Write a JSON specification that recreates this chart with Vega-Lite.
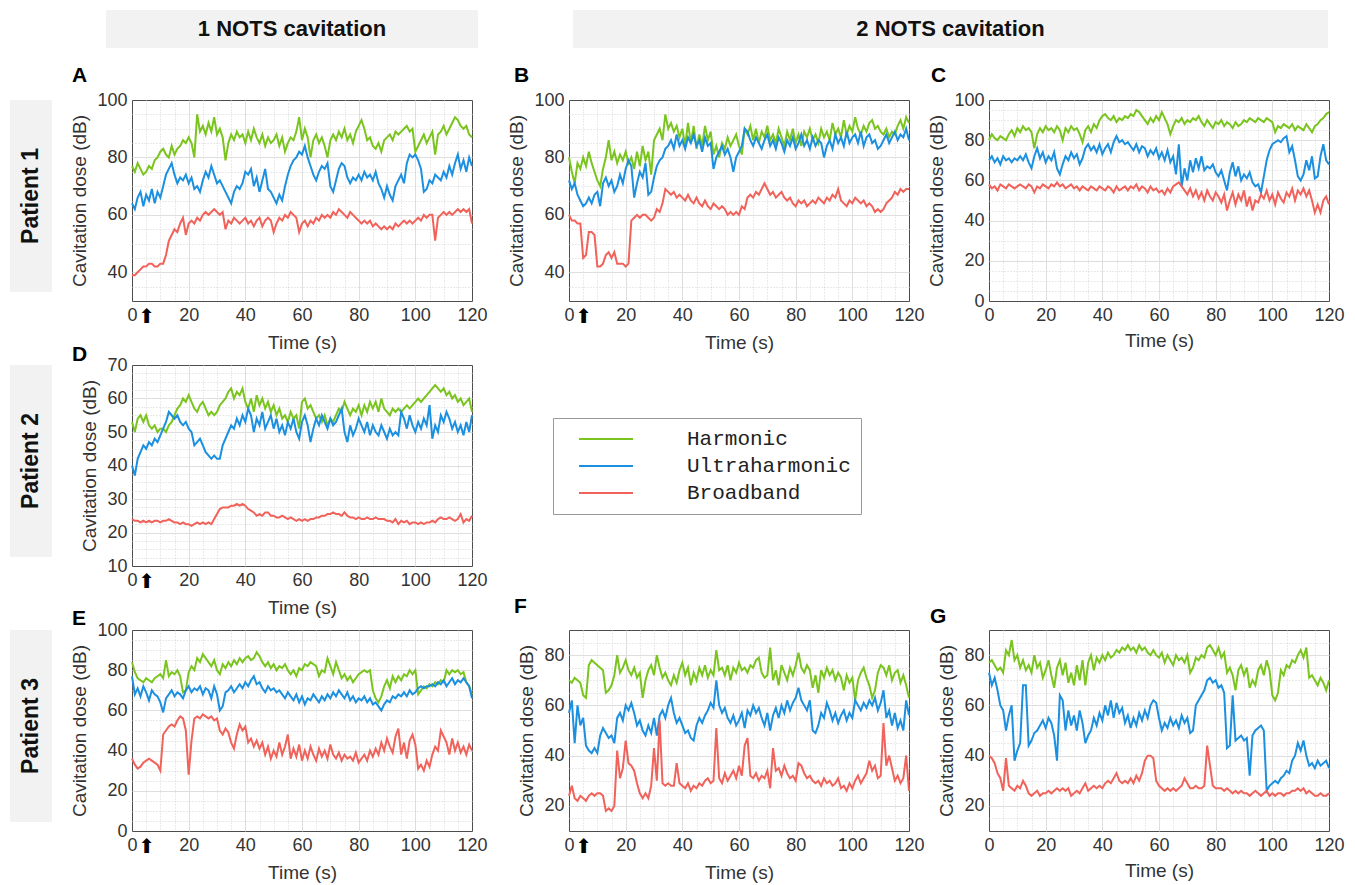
{
"$schema":"https://vega.github.io/schema/vega-lite/v6.json",
"padding":{"left":10,"top":10,"right":5,"bottom":5},
"background":"white",
"config":{
"view":{"stroke":"#4d4d4d","strokeWidth":1},
"font":"Liberation Sans",
"title":{"font":"Liberation Sans","fontSize":21,"fontWeight":"bold","color":"#000","anchor":"start","frame":"group","baseline":"alphabetic"},
"axis":{"labelFont":"Liberation Sans","labelFontSize":18,"labelColor":"#333","titleFont":"Liberation Sans","titleFontSize":19,"titleFontWeight":"normal","titleColor":"#333","domain":false,"ticks":false,"labelOverlap":false,"labelFlush":false,"labelBound":false,"grid":true,"gridWidth":1,"labelPadding":5},
"axisX":{"titlePadding":7},
"axisY":{"titlePadding":7},
"line":{"strokeWidth":2}
},
"datasets":{"cav":[
{"p":"A","t":0,"H":77,"U":64,"B":39},{"p":"A","t":1,"H":75,"U":62,"B":39},{"p":"A","t":2,"H":78,"U":66,"B":40},{"p":"A","t":3,"H":76,"U":68,"B":41},{"p":"A","t":4,"H":74,"U":63,"B":42},{"p":"A","t":5,"H":75,"U":67,"B":42},{"p":"A","t":6,"H":77,"U":65,"B":43},{"p":"A","t":7,"H":76,"U":69,"B":43},{"p":"A","t":8,"H":79,"U":64,"B":42},{"p":"A","t":9,"H":80,"U":68,"B":42},
{"p":"A","t":10,"H":82,"U":66,"B":43},{"p":"A","t":11,"H":83,"U":70,"B":43},{"p":"A","t":12,"H":81,"U":74,"B":46},{"p":"A","t":13,"H":80,"U":76,"B":51},{"p":"A","t":14,"H":84,"U":78,"B":53},{"p":"A","t":15,"H":81,"U":74,"B":55},{"p":"A","t":16,"H":83,"U":71,"B":54},{"p":"A","t":17,"H":84,"U":73,"B":57},{"p":"A","t":18,"H":86,"U":72,"B":59},{"p":"A","t":19,"H":85,"U":74,"B":53},
{"p":"A","t":20,"H":87,"U":71,"B":57},{"p":"A","t":21,"H":85,"U":73,"B":58},{"p":"A","t":22,"H":80,"U":69,"B":57},{"p":"A","t":23,"H":95,"U":70,"B":59},{"p":"A","t":24,"H":89,"U":68,"B":58},{"p":"A","t":25,"H":91,"U":72,"B":60},{"p":"A","t":26,"H":88,"U":75,"B":61},{"p":"A","t":27,"H":92,"U":73,"B":60},{"p":"A","t":28,"H":89,"U":77,"B":61},{"p":"A","t":29,"H":94,"U":74,"B":62},
{"p":"A","t":30,"H":88,"U":71,"B":61},{"p":"A","t":31,"H":90,"U":72,"B":60},{"p":"A","t":32,"H":87,"U":70,"B":61},{"p":"A","t":33,"H":79,"U":68,"B":55},{"p":"A","t":34,"H":85,"U":66,"B":58},{"p":"A","t":35,"H":88,"U":64,"B":57},{"p":"A","t":36,"H":86,"U":68,"B":59},{"p":"A","t":37,"H":89,"U":70,"B":58},{"p":"A","t":38,"H":87,"U":69,"B":57},{"p":"A","t":39,"H":88,"U":71,"B":58},
{"p":"A","t":40,"H":85,"U":75,"B":59},{"p":"A","t":41,"H":89,"U":74,"B":57},{"p":"A","t":42,"H":86,"U":76,"B":58},{"p":"A","t":43,"H":90,"U":70,"B":56},{"p":"A","t":44,"H":87,"U":73,"B":58},{"p":"A","t":45,"H":85,"U":68,"B":59},{"p":"A","t":46,"H":88,"U":72,"B":56},{"p":"A","t":47,"H":84,"U":76,"B":58},{"p":"A","t":48,"H":87,"U":69,"B":59},{"p":"A","t":49,"H":85,"U":68,"B":58},
{"p":"A","t":50,"H":86,"U":66,"B":54},{"p":"A","t":51,"H":88,"U":64,"B":57},{"p":"A","t":52,"H":84,"U":67,"B":59},{"p":"A","t":53,"H":87,"U":65,"B":58},{"p":"A","t":54,"H":82,"U":70,"B":60},{"p":"A","t":55,"H":85,"U":74,"B":59},{"p":"A","t":56,"H":87,"U":77,"B":61},{"p":"A","t":57,"H":86,"U":79,"B":60},{"p":"A","t":58,"H":89,"U":80,"B":59},{"p":"A","t":59,"H":94,"U":82,"B":54},
{"p":"A","t":60,"H":86,"U":81,"B":57},{"p":"A","t":61,"H":90,"U":84,"B":58},{"p":"A","t":62,"H":87,"U":80,"B":56},{"p":"A","t":63,"H":80,"U":77,"B":58},{"p":"A","t":64,"H":86,"U":74,"B":57},{"p":"A","t":65,"H":88,"U":72,"B":59},{"p":"A","t":66,"H":85,"U":75,"B":58},{"p":"A","t":67,"H":87,"U":77,"B":60},{"p":"A","t":68,"H":84,"U":76,"B":59},{"p":"A","t":69,"H":80,"U":78,"B":60},
{"p":"A","t":70,"H":86,"U":70,"B":59},{"p":"A","t":71,"H":88,"U":68,"B":61},{"p":"A","t":72,"H":86,"U":72,"B":60},{"p":"A","t":73,"H":89,"U":76,"B":62},{"p":"A","t":74,"H":87,"U":78,"B":61},{"p":"A","t":75,"H":90,"U":77,"B":60},{"p":"A","t":76,"H":86,"U":73,"B":59},{"p":"A","t":77,"H":88,"U":71,"B":61},{"p":"A","t":78,"H":85,"U":73,"B":60},{"p":"A","t":79,"H":89,"U":72,"B":59},
{"p":"A","t":80,"H":91,"U":74,"B":58},{"p":"A","t":81,"H":93,"U":72,"B":57},{"p":"A","t":82,"H":90,"U":75,"B":58},{"p":"A","t":83,"H":86,"U":73,"B":57},{"p":"A","t":84,"H":87,"U":74,"B":58},{"p":"A","t":85,"H":84,"U":72,"B":56},{"p":"A","t":86,"H":83,"U":75,"B":57},{"p":"A","t":87,"H":85,"U":71,"B":56},{"p":"A","t":88,"H":82,"U":69,"B":55},{"p":"A","t":89,"H":86,"U":66,"B":56},
{"p":"A","t":90,"H":87,"U":70,"B":55},{"p":"A","t":91,"H":88,"U":67,"B":56},{"p":"A","t":92,"H":86,"U":65,"B":55},{"p":"A","t":93,"H":89,"U":70,"B":57},{"p":"A","t":94,"H":88,"U":72,"B":56},{"p":"A","t":95,"H":89,"U":74,"B":57},{"p":"A","t":96,"H":90,"U":71,"B":58},{"p":"A","t":97,"H":91,"U":78,"B":57},{"p":"A","t":98,"H":89,"U":81,"B":58},{"p":"A","t":99,"H":90,"U":80,"B":57},
{"p":"A","t":100,"H":82,"U":81,"B":58},{"p":"A","t":101,"H":84,"U":79,"B":59},{"p":"A","t":102,"H":86,"U":76,"B":58},{"p":"A","t":103,"H":88,"U":68,"B":60},{"p":"A","t":104,"H":85,"U":69,"B":59},{"p":"A","t":105,"H":87,"U":72,"B":60},{"p":"A","t":106,"H":89,"U":71,"B":60},{"p":"A","t":107,"H":81,"U":74,"B":51},{"p":"A","t":108,"H":88,"U":73,"B":59},{"p":"A","t":109,"H":89,"U":72,"B":60},
{"p":"A","t":110,"H":91,"U":75,"B":61},{"p":"A","t":111,"H":88,"U":73,"B":60},{"p":"A","t":112,"H":90,"U":77,"B":61},{"p":"A","t":113,"H":92,"U":74,"B":60},{"p":"A","t":114,"H":94,"U":78,"B":61},{"p":"A","t":115,"H":93,"U":81,"B":62},{"p":"A","t":116,"H":91,"U":76,"B":61},{"p":"A","t":117,"H":90,"U":79,"B":62},{"p":"A","t":118,"H":91,"U":75,"B":61},{"p":"A","t":119,"H":88,"U":80,"B":62},{"p":"A","t":120,"H":87,"U":77,"B":57},
{"p":"B","t":0,"H":80,"U":72,"B":60},{"p":"B","t":1,"H":75,"U":69,"B":58},{"p":"B","t":2,"H":71,"U":71,"B":58},{"p":"B","t":3,"H":78,"U":67,"B":57},{"p":"B","t":4,"H":76,"U":65,"B":57},{"p":"B","t":5,"H":80,"U":63,"B":45},{"p":"B","t":6,"H":77,"U":64,"B":46},{"p":"B","t":7,"H":82,"U":66,"B":54},{"p":"B","t":8,"H":78,"U":64,"B":54},{"p":"B","t":9,"H":75,"U":67,"B":53},
{"p":"B","t":10,"H":72,"U":68,"B":42},{"p":"B","t":11,"H":70,"U":63,"B":42},{"p":"B","t":12,"H":76,"U":71,"B":43},{"p":"B","t":13,"H":80,"U":73,"B":46},{"p":"B","t":14,"H":86,"U":70,"B":47},{"p":"B","t":15,"H":79,"U":72,"B":45},{"p":"B","t":16,"H":82,"U":68,"B":47},{"p":"B","t":17,"H":78,"U":70,"B":43},{"p":"B","t":18,"H":81,"U":74,"B":43},{"p":"B","t":19,"H":79,"U":71,"B":43},
{"p":"B","t":20,"H":82,"U":76,"B":42},{"p":"B","t":21,"H":78,"U":79,"B":43},{"p":"B","t":22,"H":80,"U":77,"B":58},{"p":"B","t":23,"H":76,"U":66,"B":59},{"p":"B","t":24,"H":82,"U":71,"B":60},{"p":"B","t":25,"H":77,"U":75,"B":59},{"p":"B","t":26,"H":84,"U":73,"B":60},{"p":"B","t":27,"H":79,"U":78,"B":60},{"p":"B","t":28,"H":82,"U":67,"B":59},{"p":"B","t":29,"H":74,"U":68,"B":58},
{"p":"B","t":30,"H":86,"U":73,"B":59},{"p":"B","t":31,"H":88,"U":77,"B":62},{"p":"B","t":32,"H":90,"U":79,"B":61},{"p":"B","t":33,"H":86,"U":80,"B":64},{"p":"B","t":34,"H":95,"U":83,"B":69},{"p":"B","t":35,"H":90,"U":84,"B":68},{"p":"B","t":36,"H":92,"U":86,"B":67},{"p":"B","t":37,"H":89,"U":83,"B":68},{"p":"B","t":38,"H":91,"U":88,"B":66},{"p":"B","t":39,"H":87,"U":84,"B":67},
{"p":"B","t":40,"H":90,"U":86,"B":66},{"p":"B","t":41,"H":84,"U":83,"B":65},{"p":"B","t":42,"H":92,"U":87,"B":67},{"p":"B","t":43,"H":85,"U":85,"B":65},{"p":"B","t":44,"H":91,"U":88,"B":64},{"p":"B","t":45,"H":83,"U":84,"B":66},{"p":"B","t":46,"H":88,"U":86,"B":64},{"p":"B","t":47,"H":84,"U":82,"B":63},{"p":"B","t":48,"H":91,"U":87,"B":65},{"p":"B","t":49,"H":86,"U":84,"B":63},
{"p":"B","t":50,"H":89,"U":85,"B":62},{"p":"B","t":51,"H":81,"U":76,"B":64},{"p":"B","t":52,"H":84,"U":80,"B":63},{"p":"B","t":53,"H":80,"U":82,"B":62},{"p":"B","t":54,"H":85,"U":84,"B":63},{"p":"B","t":55,"H":83,"U":81,"B":62},{"p":"B","t":56,"H":87,"U":83,"B":60},{"p":"B","t":57,"H":84,"U":80,"B":61},{"p":"B","t":58,"H":86,"U":75,"B":60},{"p":"B","t":59,"H":88,"U":80,"B":61},
{"p":"B","t":60,"H":84,"U":82,"B":60},{"p":"B","t":61,"H":81,"U":84,"B":63},{"p":"B","t":62,"H":90,"U":90,"B":62},{"p":"B","t":63,"H":88,"U":89,"B":66},{"p":"B","t":64,"H":91,"U":86,"B":67},{"p":"B","t":65,"H":86,"U":84,"B":66},{"p":"B","t":66,"H":90,"U":87,"B":68},{"p":"B","t":67,"H":85,"U":85,"B":67},{"p":"B","t":68,"H":89,"U":83,"B":69},{"p":"B","t":69,"H":87,"U":86,"B":71},
{"p":"B","t":70,"H":91,"U":88,"B":69},{"p":"B","t":71,"H":86,"U":84,"B":67},{"p":"B","t":72,"H":88,"U":86,"B":68},{"p":"B","t":73,"H":85,"U":83,"B":66},{"p":"B","t":74,"H":90,"U":87,"B":67},{"p":"B","t":75,"H":87,"U":85,"B":68},{"p":"B","t":76,"H":84,"U":82,"B":66},{"p":"B","t":77,"H":89,"U":86,"B":65},{"p":"B","t":78,"H":86,"U":84,"B":66},{"p":"B","t":79,"H":90,"U":87,"B":64},
{"p":"B","t":80,"H":85,"U":83,"B":63},{"p":"B","t":81,"H":88,"U":85,"B":65},{"p":"B","t":82,"H":84,"U":88,"B":64},{"p":"B","t":83,"H":89,"U":84,"B":65},{"p":"B","t":84,"H":87,"U":86,"B":63},{"p":"B","t":85,"H":90,"U":83,"B":64},{"p":"B","t":86,"H":86,"U":87,"B":65},{"p":"B","t":87,"H":88,"U":84,"B":64},{"p":"B","t":88,"H":85,"U":86,"B":66},{"p":"B","t":89,"H":90,"U":85,"B":65},
{"p":"B","t":90,"H":87,"U":80,"B":64},{"p":"B","t":91,"H":89,"U":84,"B":66},{"p":"B","t":92,"H":86,"U":86,"B":65},{"p":"B","t":93,"H":92,"U":83,"B":67},{"p":"B","t":94,"H":88,"U":88,"B":66},{"p":"B","t":95,"H":90,"U":85,"B":69},{"p":"B","t":96,"H":87,"U":87,"B":65},{"p":"B","t":97,"H":93,"U":84,"B":64},{"p":"B","t":98,"H":88,"U":89,"B":63},{"p":"B","t":99,"H":91,"U":85,"B":65},
{"p":"B","t":100,"H":89,"U":87,"B":64},{"p":"B","t":101,"H":94,"U":88,"B":66},{"p":"B","t":102,"H":90,"U":85,"B":65},{"p":"B","t":103,"H":88,"U":89,"B":64},{"p":"B","t":104,"H":91,"U":84,"B":65},{"p":"B","t":105,"H":89,"U":87,"B":63},{"p":"B","t":106,"H":92,"U":88,"B":64},{"p":"B","t":107,"H":93,"U":85,"B":63},{"p":"B","t":108,"H":90,"U":86,"B":61},{"p":"B","t":109,"H":91,"U":83,"B":62},
{"p":"B","t":110,"H":89,"U":84,"B":61},{"p":"B","t":111,"H":88,"U":86,"B":62},{"p":"B","t":112,"H":90,"U":88,"B":64},{"p":"B","t":113,"H":87,"U":85,"B":65},{"p":"B","t":114,"H":89,"U":87,"B":66},{"p":"B","t":115,"H":88,"U":89,"B":68},{"p":"B","t":116,"H":91,"U":86,"B":67},{"p":"B","t":117,"H":93,"U":88,"B":69},{"p":"B","t":118,"H":90,"U":87,"B":68},{"p":"B","t":119,"H":94,"U":90,"B":69},{"p":"B","t":120,"H":92,"U":86,"B":69},
{"p":"C","t":0,"H":80,"U":70,"B":58},{"p":"C","t":1,"H":83,"U":72,"B":56},{"p":"C","t":2,"H":81,"U":69,"B":57},{"p":"C","t":3,"H":80,"U":71,"B":55},{"p":"C","t":4,"H":82,"U":68,"B":58},{"p":"C","t":5,"H":81,"U":72,"B":57},{"p":"C","t":6,"H":80,"U":70,"B":56},{"p":"C","t":7,"H":83,"U":71,"B":58},{"p":"C","t":8,"H":85,"U":69,"B":57},{"p":"C","t":9,"H":82,"U":71,"B":56},
{"p":"C","t":10,"H":86,"U":70,"B":57},{"p":"C","t":11,"H":84,"U":72,"B":58},{"p":"C","t":12,"H":87,"U":70,"B":57},{"p":"C","t":13,"H":85,"U":73,"B":56},{"p":"C","t":14,"H":86,"U":69,"B":58},{"p":"C","t":15,"H":84,"U":66,"B":57},{"p":"C","t":16,"H":76,"U":72,"B":54},{"p":"C","t":17,"H":83,"U":76,"B":57},{"p":"C","t":18,"H":86,"U":71,"B":56},{"p":"C","t":19,"H":84,"U":74,"B":58},
{"p":"C","t":20,"H":87,"U":69,"B":57},{"p":"C","t":21,"H":85,"U":72,"B":56},{"p":"C","t":22,"H":86,"U":70,"B":58},{"p":"C","t":23,"H":84,"U":74,"B":57},{"p":"C","t":24,"H":87,"U":66,"B":59},{"p":"C","t":25,"H":85,"U":63,"B":57},{"p":"C","t":26,"H":80,"U":68,"B":58},{"p":"C","t":27,"H":86,"U":72,"B":56},{"p":"C","t":28,"H":84,"U":70,"B":57},{"p":"C","t":29,"H":87,"U":74,"B":58},
{"p":"C","t":30,"H":85,"U":71,"B":56},{"p":"C","t":31,"H":86,"U":73,"B":57},{"p":"C","t":32,"H":83,"U":68,"B":55},{"p":"C","t":33,"H":79,"U":71,"B":57},{"p":"C","t":34,"H":85,"U":76,"B":56},{"p":"C","t":35,"H":87,"U":78,"B":55},{"p":"C","t":36,"H":84,"U":75,"B":57},{"p":"C","t":37,"H":88,"U":77,"B":56},{"p":"C","t":38,"H":86,"U":74,"B":55},{"p":"C","t":39,"H":90,"U":78,"B":57},
{"p":"C","t":40,"H":92,"U":73,"B":56},{"p":"C","t":41,"H":93,"U":76,"B":55},{"p":"C","t":42,"H":91,"U":78,"B":57},{"p":"C","t":43,"H":90,"U":74,"B":56},{"p":"C","t":44,"H":92,"U":79,"B":54},{"p":"C","t":45,"H":89,"U":82,"B":57},{"p":"C","t":46,"H":91,"U":79,"B":55},{"p":"C","t":47,"H":90,"U":80,"B":56},{"p":"C","t":48,"H":92,"U":78,"B":57},{"p":"C","t":49,"H":91,"U":79,"B":55},
{"p":"C","t":50,"H":93,"U":77,"B":57},{"p":"C","t":51,"H":92,"U":75,"B":56},{"p":"C","t":52,"H":95,"U":78,"B":58},{"p":"C","t":53,"H":94,"U":74,"B":55},{"p":"C","t":54,"H":92,"U":77,"B":57},{"p":"C","t":55,"H":90,"U":76,"B":56},{"p":"C","t":56,"H":88,"U":72,"B":54},{"p":"C","t":57,"H":91,"U":75,"B":57},{"p":"C","t":58,"H":89,"U":73,"B":55},{"p":"C","t":59,"H":92,"U":76,"B":56},
{"p":"C","t":60,"H":90,"U":71,"B":54},{"p":"C","t":61,"H":94,"U":74,"B":55},{"p":"C","t":62,"H":91,"U":70,"B":53},{"p":"C","t":63,"H":88,"U":75,"B":56},{"p":"C","t":64,"H":83,"U":69,"B":54},{"p":"C","t":65,"H":87,"U":72,"B":57},{"p":"C","t":66,"H":90,"U":63,"B":58},{"p":"C","t":67,"H":89,"U":78,"B":59},{"p":"C","t":68,"H":91,"U":57,"B":57},{"p":"C","t":69,"H":88,"U":66,"B":55},
{"p":"C","t":70,"H":90,"U":60,"B":53},{"p":"C","t":71,"H":89,"U":70,"B":56},{"p":"C","t":72,"H":91,"U":64,"B":52},{"p":"C","t":73,"H":90,"U":71,"B":55},{"p":"C","t":74,"H":92,"U":66,"B":51},{"p":"C","t":75,"H":89,"U":72,"B":54},{"p":"C","t":76,"H":87,"U":65,"B":50},{"p":"C","t":77,"H":90,"U":67,"B":55},{"p":"C","t":78,"H":88,"U":66,"B":52},{"p":"C","t":79,"H":86,"U":68,"B":50},
{"p":"C","t":80,"H":89,"U":64,"B":54},{"p":"C","t":81,"H":88,"U":62,"B":52},{"p":"C","t":82,"H":90,"U":65,"B":49},{"p":"C","t":83,"H":87,"U":60,"B":53},{"p":"C","t":84,"H":89,"U":55,"B":45},{"p":"C","t":85,"H":88,"U":64,"B":50},{"p":"C","t":86,"H":86,"U":69,"B":54},{"p":"C","t":87,"H":89,"U":62,"B":48},{"p":"C","t":88,"H":87,"U":67,"B":53},{"p":"C","t":89,"H":88,"U":60,"B":50},
{"p":"C","t":90,"H":90,"U":63,"B":55},{"p":"C","t":91,"H":89,"U":61,"B":47},{"p":"C","t":92,"H":91,"U":64,"B":52},{"p":"C","t":93,"H":90,"U":59,"B":45},{"p":"C","t":94,"H":89,"U":57,"B":50},{"p":"C","t":95,"H":91,"U":58,"B":49},{"p":"C","t":96,"H":90,"U":54,"B":53},{"p":"C","t":97,"H":89,"U":62,"B":51},{"p":"C","t":98,"H":91,"U":70,"B":55},{"p":"C","t":99,"H":90,"U":75,"B":50},
{"p":"C","t":100,"H":89,"U":78,"B":53},{"p":"C","t":101,"H":84,"U":79,"B":48},{"p":"C","t":102,"H":87,"U":80,"B":54},{"p":"C","t":103,"H":86,"U":79,"B":51},{"p":"C","t":104,"H":88,"U":81,"B":49},{"p":"C","t":105,"H":87,"U":82,"B":54},{"p":"C","t":106,"H":86,"U":74,"B":52},{"p":"C","t":107,"H":88,"U":77,"B":56},{"p":"C","t":108,"H":85,"U":70,"B":50},{"p":"C","t":109,"H":87,"U":62,"B":55},
{"p":"C","t":110,"H":86,"U":60,"B":53},{"p":"C","t":111,"H":85,"U":63,"B":56},{"p":"C","t":112,"H":88,"U":70,"B":52},{"p":"C","t":113,"H":86,"U":65,"B":55},{"p":"C","t":114,"H":84,"U":72,"B":50},{"p":"C","t":115,"H":87,"U":61,"B":44},{"p":"C","t":116,"H":88,"U":62,"B":48},{"p":"C","t":117,"H":90,"U":72,"B":44},{"p":"C","t":118,"H":91,"U":78,"B":50},{"p":"C","t":119,"H":93,"U":70,"B":52},{"p":"C","t":120,"H":94,"U":68,"B":48},
{"p":"D","t":0,"H":53,"U":40,"B":24},{"p":"D","t":1,"H":50,"U":37,"B":23.5},{"p":"D","t":2,"H":54,"U":42,"B":23.5},{"p":"D","t":3,"H":55,"U":44,"B":23},{"p":"D","t":4,"H":53,"U":46,"B":23.5},{"p":"D","t":5,"H":55,"U":45,"B":23},{"p":"D","t":6,"H":52,"U":47,"B":23.5},{"p":"D","t":7,"H":51,"U":46,"B":23},{"p":"D","t":8,"H":52,"U":48,"B":23.5},{"p":"D","t":9,"H":50,"U":47,"B":23.5},
{"p":"D","t":10,"H":51,"U":49,"B":23},{"p":"D","t":11,"H":51,"U":51,"B":23.5},{"p":"D","t":12,"H":50,"U":53,"B":23.5},{"p":"D","t":13,"H":52,"U":56,"B":24},{"p":"D","t":14,"H":53,"U":55,"B":23.5},{"p":"D","t":15,"H":55,"U":54,"B":23},{"p":"D","t":16,"H":57,"U":55,"B":23},{"p":"D","t":17,"H":58,"U":53,"B":22.5},{"p":"D","t":18,"H":60,"U":52,"B":23},{"p":"D","t":19,"H":59,"U":53,"B":22.5},
{"p":"D","t":20,"H":61,"U":51,"B":22.5},{"p":"D","t":21,"H":59,"U":50,"B":22},{"p":"D","t":22,"H":57,"U":46,"B":22.5},{"p":"D","t":23,"H":56,"U":47,"B":23},{"p":"D","t":24,"H":58,"U":48,"B":22.5},{"p":"D","t":25,"H":59,"U":46,"B":23},{"p":"D","t":26,"H":57,"U":44,"B":22.5},{"p":"D","t":27,"H":55,"U":43,"B":23},{"p":"D","t":28,"H":56,"U":42,"B":22.5},{"p":"D","t":29,"H":55,"U":43,"B":24},
{"p":"D","t":30,"H":56,"U":42,"B":25.5},{"p":"D","t":31,"H":58,"U":42,"B":27},{"p":"D","t":32,"H":59,"U":46,"B":27.5},{"p":"D","t":33,"H":60,"U":48,"B":27.5},{"p":"D","t":34,"H":62,"U":50,"B":27.5},{"p":"D","t":35,"H":63,"U":52,"B":28},{"p":"D","t":36,"H":60,"U":51,"B":28},{"p":"D","t":37,"H":62,"U":54,"B":28.5},{"p":"D","t":38,"H":61,"U":52,"B":28},{"p":"D","t":39,"H":63,"U":55,"B":28.5},
{"p":"D","t":40,"H":59,"U":53,"B":28},{"p":"D","t":41,"H":57,"U":57,"B":27},{"p":"D","t":42,"H":60,"U":55,"B":26.5},{"p":"D","t":43,"H":56,"U":50,"B":26},{"p":"D","t":44,"H":61,"U":54,"B":25},{"p":"D","t":45,"H":58,"U":52,"B":25.5},{"p":"D","t":46,"H":60,"U":56,"B":25},{"p":"D","t":47,"H":57,"U":51,"B":26},{"p":"D","t":48,"H":59,"U":53,"B":26},{"p":"D","t":49,"H":56,"U":55,"B":25},
{"p":"D","t":50,"H":58,"U":51,"B":25},{"p":"D","t":51,"H":55,"U":54,"B":24.5},{"p":"D","t":52,"H":57,"U":50,"B":24.5},{"p":"D","t":53,"H":54,"U":52,"B":25},{"p":"D","t":54,"H":55,"U":49,"B":24.5},{"p":"D","t":55,"H":53,"U":53,"B":24},{"p":"D","t":56,"H":56,"U":51,"B":24.5},{"p":"D","t":57,"H":54,"U":54,"B":24},{"p":"D","t":58,"H":55,"U":50,"B":23.5},{"p":"D","t":59,"H":51,"U":48,"B":24},
{"p":"D","t":60,"H":59,"U":53,"B":23.5},{"p":"D","t":61,"H":60,"U":55,"B":24},{"p":"D","t":62,"H":57,"U":52,"B":23.5},{"p":"D","t":63,"H":58,"U":47,"B":24},{"p":"D","t":64,"H":56,"U":51,"B":24},{"p":"D","t":65,"H":54,"U":54,"B":24.5},{"p":"D","t":66,"H":55,"U":52,"B":24.5},{"p":"D","t":67,"H":53,"U":55,"B":25},{"p":"D","t":68,"H":55,"U":53,"B":25},{"p":"D","t":69,"H":52,"U":51,"B":25.5},
{"p":"D","t":70,"H":54,"U":54,"B":25.5},{"p":"D","t":71,"H":53,"U":52,"B":26},{"p":"D","t":72,"H":55,"U":53,"B":25.5},{"p":"D","t":73,"H":57,"U":55,"B":25.5},{"p":"D","t":74,"H":56,"U":57,"B":25},{"p":"D","t":75,"H":59,"U":50,"B":26},{"p":"D","t":76,"H":57,"U":47,"B":25},{"p":"D","t":77,"H":55,"U":52,"B":24.5},{"p":"D","t":78,"H":57,"U":49,"B":24.5},{"p":"D","t":79,"H":56,"U":51,"B":24},
{"p":"D","t":80,"H":58,"U":54,"B":24.5},{"p":"D","t":81,"H":55,"U":52,"B":24},{"p":"D","t":82,"H":58,"U":50,"B":24},{"p":"D","t":83,"H":56,"U":53,"B":24.5},{"p":"D","t":84,"H":59,"U":49,"B":24},{"p":"D","t":85,"H":57,"U":52,"B":24},{"p":"D","t":86,"H":59,"U":50,"B":24.5},{"p":"D","t":87,"H":56,"U":49,"B":24},{"p":"D","t":88,"H":60,"U":52,"B":24},{"p":"D","t":89,"H":57,"U":50,"B":24},
{"p":"D","t":90,"H":56,"U":48,"B":23.5},{"p":"D","t":91,"H":55,"U":51,"B":23.5},{"p":"D","t":92,"H":57,"U":49,"B":23},{"p":"D","t":93,"H":56,"U":50,"B":24},{"p":"D","t":94,"H":57,"U":49,"B":22.5},{"p":"D","t":95,"H":56,"U":56,"B":23.5},{"p":"D","t":96,"H":57,"U":54,"B":23},{"p":"D","t":97,"H":58,"U":51,"B":23.5},{"p":"D","t":98,"H":57,"U":55,"B":22.5},{"p":"D","t":99,"H":58,"U":52,"B":23},
{"p":"D","t":100,"H":59,"U":50,"B":23},{"p":"D","t":101,"H":60,"U":53,"B":22.5},{"p":"D","t":102,"H":59,"U":51,"B":23},{"p":"D","t":103,"H":60,"U":54,"B":22.5},{"p":"D","t":104,"H":61,"U":52,"B":23},{"p":"D","t":105,"H":62,"U":58,"B":23},{"p":"D","t":106,"H":63,"U":48,"B":23.5},{"p":"D","t":107,"H":64,"U":52,"B":23},{"p":"D","t":108,"H":63,"U":50,"B":24},{"p":"D","t":109,"H":62,"U":55,"B":24.5},
{"p":"D","t":110,"H":63,"U":53,"B":24},{"p":"D","t":111,"H":61,"U":56,"B":24},{"p":"D","t":112,"H":62,"U":54,"B":24.5},{"p":"D","t":113,"H":60,"U":51,"B":24},{"p":"D","t":114,"H":61,"U":53,"B":23.5},{"p":"D","t":115,"H":59,"U":50,"B":24},{"p":"D","t":116,"H":60,"U":52,"B":25.5},{"p":"D","t":117,"H":58,"U":49,"B":23},{"p":"D","t":118,"H":59,"U":53,"B":24},{"p":"D","t":119,"H":60,"U":50,"B":23.5},{"p":"D","t":120,"H":56,"U":55,"B":25},
{"p":"E","t":0,"H":84,"U":77,"B":36},{"p":"E","t":1,"H":79,"U":68,"B":33},{"p":"E","t":2,"H":76,"U":71,"B":31},{"p":"E","t":3,"H":75,"U":67,"B":32},{"p":"E","t":4,"H":74,"U":72,"B":34},{"p":"E","t":5,"H":76,"U":69,"B":35},{"p":"E","t":6,"H":75,"U":65,"B":36},{"p":"E","t":7,"H":74,"U":70,"B":35},{"p":"E","t":8,"H":76,"U":68,"B":34},{"p":"E","t":9,"H":77,"U":67,"B":33},
{"p":"E","t":10,"H":78,"U":64,"B":30},{"p":"E","t":11,"H":76,"U":59,"B":48},{"p":"E","t":12,"H":85,"U":66,"B":50},{"p":"E","t":13,"H":77,"U":68,"B":52},{"p":"E","t":14,"H":79,"U":70,"B":53},{"p":"E","t":15,"H":78,"U":67,"B":52},{"p":"E","t":16,"H":80,"U":69,"B":55},{"p":"E","t":17,"H":77,"U":68,"B":57},{"p":"E","t":18,"H":69,"U":66,"B":56},{"p":"E","t":19,"H":70,"U":70,"B":50},
{"p":"E","t":20,"H":79,"U":72,"B":28},{"p":"E","t":21,"H":82,"U":69,"B":45},{"p":"E","t":22,"H":80,"U":71,"B":56},{"p":"E","t":23,"H":86,"U":70,"B":57},{"p":"E","t":24,"H":84,"U":72,"B":56},{"p":"E","t":25,"H":88,"U":68,"B":58},{"p":"E","t":26,"H":86,"U":71,"B":57},{"p":"E","t":27,"H":84,"U":70,"B":56},{"p":"E","t":28,"H":82,"U":66,"B":57},{"p":"E","t":29,"H":85,"U":72,"B":55},
{"p":"E","t":30,"H":80,"U":68,"B":56},{"p":"E","t":31,"H":78,"U":60,"B":50},{"p":"E","t":32,"H":83,"U":62,"B":48},{"p":"E","t":33,"H":81,"U":69,"B":51},{"p":"E","t":34,"H":84,"U":70,"B":49},{"p":"E","t":35,"H":82,"U":72,"B":44},{"p":"E","t":36,"H":85,"U":69,"B":41},{"p":"E","t":37,"H":83,"U":71,"B":48},{"p":"E","t":38,"H":86,"U":73,"B":53},{"p":"E","t":39,"H":84,"U":71,"B":50},
{"p":"E","t":40,"H":86,"U":74,"B":52},{"p":"E","t":41,"H":87,"U":72,"B":44},{"p":"E","t":42,"H":85,"U":75,"B":46},{"p":"E","t":43,"H":86,"U":77,"B":42},{"p":"E","t":44,"H":89,"U":73,"B":45},{"p":"E","t":45,"H":87,"U":74,"B":41},{"p":"E","t":46,"H":84,"U":71,"B":44},{"p":"E","t":47,"H":82,"U":69,"B":38},{"p":"E","t":48,"H":84,"U":72,"B":42},{"p":"E","t":49,"H":81,"U":70,"B":36},
{"p":"E","t":50,"H":83,"U":71,"B":40},{"p":"E","t":51,"H":80,"U":69,"B":37},{"p":"E","t":52,"H":82,"U":70,"B":44},{"p":"E","t":53,"H":81,"U":68,"B":38},{"p":"E","t":54,"H":83,"U":66,"B":42},{"p":"E","t":55,"H":80,"U":69,"B":48},{"p":"E","t":56,"H":78,"U":67,"B":36},{"p":"E","t":57,"H":80,"U":65,"B":41},{"p":"E","t":58,"H":77,"U":68,"B":37},{"p":"E","t":59,"H":81,"U":64,"B":43},
{"p":"E","t":60,"H":80,"U":67,"B":35},{"p":"E","t":61,"H":83,"U":63,"B":40},{"p":"E","t":62,"H":82,"U":66,"B":36},{"p":"E","t":63,"H":84,"U":65,"B":42},{"p":"E","t":64,"H":83,"U":68,"B":38},{"p":"E","t":65,"H":82,"U":66,"B":35},{"p":"E","t":66,"H":77,"U":64,"B":41},{"p":"E","t":67,"H":80,"U":67,"B":37},{"p":"E","t":68,"H":79,"U":65,"B":40},{"p":"E","t":69,"H":86,"U":68,"B":36},
{"p":"E","t":70,"H":82,"U":66,"B":43},{"p":"E","t":71,"H":78,"U":69,"B":38},{"p":"E","t":72,"H":84,"U":67,"B":36},{"p":"E","t":73,"H":80,"U":70,"B":39},{"p":"E","t":74,"H":76,"U":68,"B":35},{"p":"E","t":75,"H":78,"U":66,"B":38},{"p":"E","t":76,"H":75,"U":69,"B":36},{"p":"E","t":77,"H":77,"U":65,"B":37},{"p":"E","t":78,"H":74,"U":67,"B":35},{"p":"E","t":79,"H":76,"U":64,"B":39},
{"p":"E","t":80,"H":78,"U":66,"B":34},{"p":"E","t":81,"H":79,"U":65,"B":36},{"p":"E","t":82,"H":80,"U":67,"B":38},{"p":"E","t":83,"H":79,"U":64,"B":35},{"p":"E","t":84,"H":80,"U":66,"B":40},{"p":"E","t":85,"H":70,"U":63,"B":37},{"p":"E","t":86,"H":66,"U":64,"B":41},{"p":"E","t":87,"H":64,"U":62,"B":38},{"p":"E","t":88,"H":67,"U":60,"B":44},{"p":"E","t":89,"H":72,"U":63,"B":40},
{"p":"E","t":90,"H":75,"U":65,"B":46},{"p":"E","t":91,"H":71,"U":64,"B":42},{"p":"E","t":92,"H":77,"U":67,"B":39},{"p":"E","t":93,"H":74,"U":66,"B":47},{"p":"E","t":94,"H":77,"U":68,"B":51},{"p":"E","t":95,"H":75,"U":67,"B":38},{"p":"E","t":96,"H":78,"U":69,"B":44},{"p":"E","t":97,"H":77,"U":67,"B":36},{"p":"E","t":98,"H":80,"U":70,"B":45},{"p":"E","t":99,"H":78,"U":68,"B":48},
{"p":"E","t":100,"H":80,"U":69,"B":43},{"p":"E","t":101,"H":68,"U":71,"B":31},{"p":"E","t":102,"H":70,"U":72,"B":33},{"p":"E","t":103,"H":72,"U":71,"B":30},{"p":"E","t":104,"H":71,"U":72,"B":35},{"p":"E","t":105,"H":73,"U":72,"B":32},{"p":"E","t":106,"H":72,"U":73,"B":38},{"p":"E","t":107,"H":74,"U":72,"B":42},{"p":"E","t":108,"H":73,"U":74,"B":40},{"p":"E","t":109,"H":75,"U":73,"B":50},
{"p":"E","t":110,"H":74,"U":75,"B":47},{"p":"E","t":111,"H":80,"U":72,"B":44},{"p":"E","t":112,"H":78,"U":74,"B":38},{"p":"E","t":113,"H":80,"U":76,"B":46},{"p":"E","t":114,"H":79,"U":73,"B":40},{"p":"E","t":115,"H":80,"U":75,"B":44},{"p":"E","t":116,"H":78,"U":74,"B":39},{"p":"E","t":117,"H":79,"U":76,"B":42},{"p":"E","t":118,"H":74,"U":74,"B":38},{"p":"E","t":119,"H":72,"U":72,"B":43},{"p":"E","t":120,"H":68,"U":66,"B":40},
{"p":"F","t":0,"H":70,"U":57,"B":24},{"p":"F","t":1,"H":69,"U":62,"B":28},{"p":"F","t":2,"H":71,"U":45,"B":23},{"p":"F","t":3,"H":70,"U":60,"B":22},{"p":"F","t":4,"H":69,"U":52,"B":24},{"p":"F","t":5,"H":64,"U":55,"B":23},{"p":"F","t":6,"H":63,"U":44,"B":22},{"p":"F","t":7,"H":76,"U":42,"B":24},{"p":"F","t":8,"H":78,"U":41,"B":25},{"p":"F","t":9,"H":77,"U":43,"B":24},
{"p":"F","t":10,"H":76,"U":41,"B":25},{"p":"F","t":11,"H":75,"U":48,"B":25},{"p":"F","t":12,"H":74,"U":51,"B":24},{"p":"F","t":13,"H":65,"U":49,"B":18},{"p":"F","t":14,"H":66,"U":47,"B":19},{"p":"F","t":15,"H":68,"U":48,"B":18},{"p":"F","t":16,"H":72,"U":45,"B":20},{"p":"F","t":17,"H":80,"U":55,"B":42},{"p":"F","t":18,"H":73,"U":57,"B":31},{"p":"F","t":19,"H":75,"U":54,"B":35},
{"p":"F","t":20,"H":78,"U":60,"B":46},{"p":"F","t":21,"H":74,"U":58,"B":37},{"p":"F","t":22,"H":72,"U":61,"B":36},{"p":"F","t":23,"H":75,"U":57,"B":34},{"p":"F","t":24,"H":71,"U":52,"B":29},{"p":"F","t":25,"H":73,"U":54,"B":25},{"p":"F","t":26,"H":63,"U":50,"B":23},{"p":"F","t":27,"H":70,"U":48,"B":25},{"p":"F","t":28,"H":74,"U":52,"B":23},{"p":"F","t":29,"H":76,"U":49,"B":28},
{"p":"F","t":30,"H":72,"U":55,"B":43},{"p":"F","t":31,"H":80,"U":48,"B":30},{"p":"F","t":32,"H":75,"U":56,"B":54},{"p":"F","t":33,"H":71,"U":58,"B":29},{"p":"F","t":34,"H":73,"U":55,"B":28},{"p":"F","t":35,"H":70,"U":60,"B":29},{"p":"F","t":36,"H":68,"U":63,"B":28},{"p":"F","t":37,"H":72,"U":57,"B":28},{"p":"F","t":38,"H":69,"U":53,"B":37},{"p":"F","t":39,"H":74,"U":55,"B":29},
{"p":"F","t":40,"H":77,"U":52,"B":28},{"p":"F","t":41,"H":72,"U":49,"B":27},{"p":"F","t":42,"H":75,"U":50,"B":29},{"p":"F","t":43,"H":68,"U":47,"B":26},{"p":"F","t":44,"H":73,"U":46,"B":28},{"p":"F","t":45,"H":70,"U":52,"B":27},{"p":"F","t":46,"H":75,"U":55,"B":29},{"p":"F","t":47,"H":72,"U":53,"B":28},{"p":"F","t":48,"H":76,"U":56,"B":30},{"p":"F","t":49,"H":71,"U":58,"B":31},
{"p":"F","t":50,"H":74,"U":61,"B":29},{"p":"F","t":51,"H":72,"U":59,"B":30},{"p":"F","t":52,"H":82,"U":70,"B":51},{"p":"F","t":53,"H":74,"U":60,"B":31},{"p":"F","t":54,"H":75,"U":57,"B":29},{"p":"F","t":55,"H":72,"U":59,"B":33},{"p":"F","t":56,"H":76,"U":55,"B":30},{"p":"F","t":57,"H":70,"U":53,"B":32},{"p":"F","t":58,"H":75,"U":56,"B":34},{"p":"F","t":59,"H":73,"U":52,"B":31},
{"p":"F","t":60,"H":77,"U":54,"B":36},{"p":"F","t":61,"H":74,"U":57,"B":32},{"p":"F","t":62,"H":75,"U":51,"B":44},{"p":"F","t":63,"H":73,"U":58,"B":47},{"p":"F","t":64,"H":76,"U":56,"B":32},{"p":"F","t":65,"H":75,"U":60,"B":31},{"p":"F","t":66,"H":78,"U":57,"B":33},{"p":"F","t":67,"H":79,"U":59,"B":30},{"p":"F","t":68,"H":73,"U":55,"B":32},{"p":"F","t":69,"H":71,"U":52,"B":31},
{"p":"F","t":70,"H":72,"U":57,"B":34},{"p":"F","t":71,"H":83,"U":50,"B":27},{"p":"F","t":72,"H":70,"U":56,"B":43},{"p":"F","t":73,"H":74,"U":59,"B":34},{"p":"F","t":74,"H":68,"U":55,"B":35},{"p":"F","t":75,"H":76,"U":60,"B":32},{"p":"F","t":76,"H":73,"U":57,"B":36},{"p":"F","t":77,"H":70,"U":62,"B":33},{"p":"F","t":78,"H":75,"U":58,"B":31},{"p":"F","t":79,"H":72,"U":61,"B":32},
{"p":"F","t":80,"H":76,"U":63,"B":30},{"p":"F","t":81,"H":81,"U":67,"B":37},{"p":"F","t":82,"H":75,"U":62,"B":36},{"p":"F","t":83,"H":73,"U":60,"B":33},{"p":"F","t":84,"H":76,"U":58,"B":31},{"p":"F","t":85,"H":74,"U":62,"B":32},{"p":"F","t":86,"H":67,"U":50,"B":30},{"p":"F","t":87,"H":72,"U":49,"B":29},{"p":"F","t":88,"H":65,"U":52,"B":30},{"p":"F","t":89,"H":74,"U":57,"B":28},
{"p":"F","t":90,"H":71,"U":55,"B":31},{"p":"F","t":91,"H":75,"U":61,"B":29},{"p":"F","t":92,"H":72,"U":58,"B":30},{"p":"F","t":93,"H":74,"U":54,"B":28},{"p":"F","t":94,"H":70,"U":57,"B":29},{"p":"F","t":95,"H":73,"U":53,"B":31},{"p":"F","t":96,"H":71,"U":56,"B":27},{"p":"F","t":97,"H":66,"U":58,"B":28},{"p":"F","t":98,"H":72,"U":54,"B":26},{"p":"F","t":99,"H":69,"U":57,"B":29},
{"p":"F","t":100,"H":71,"U":55,"B":27},{"p":"F","t":101,"H":62,"U":62,"B":30},{"p":"F","t":102,"H":70,"U":60,"B":32},{"p":"F","t":103,"H":73,"U":58,"B":29},{"p":"F","t":104,"H":75,"U":61,"B":31},{"p":"F","t":105,"H":71,"U":59,"B":33},{"p":"F","t":106,"H":68,"U":62,"B":38},{"p":"F","t":107,"H":63,"U":60,"B":34},{"p":"F","t":108,"H":66,"U":63,"B":36},{"p":"F","t":109,"H":73,"U":58,"B":31},
{"p":"F","t":110,"H":76,"U":61,"B":32},{"p":"F","t":111,"H":75,"U":66,"B":53},{"p":"F","t":112,"H":72,"U":55,"B":36},{"p":"F","t":113,"H":76,"U":58,"B":40},{"p":"F","t":114,"H":70,"U":52,"B":35},{"p":"F","t":115,"H":73,"U":57,"B":30},{"p":"F","t":116,"H":74,"U":51,"B":32},{"p":"F","t":117,"H":69,"U":54,"B":29},{"p":"F","t":118,"H":72,"U":50,"B":31},{"p":"F","t":119,"H":68,"U":62,"B":40},{"p":"F","t":120,"H":63,"U":56,"B":26},
{"p":"G","t":0,"H":77,"U":73,"B":40},{"p":"G","t":1,"H":78,"U":68,"B":39},{"p":"G","t":2,"H":76,"U":71,"B":37},{"p":"G","t":3,"H":74,"U":66,"B":33},{"p":"G","t":4,"H":75,"U":60,"B":31},{"p":"G","t":5,"H":73,"U":58,"B":26},{"p":"G","t":6,"H":82,"U":50,"B":39},{"p":"G","t":7,"H":80,"U":56,"B":28},{"p":"G","t":8,"H":86,"U":60,"B":27},{"p":"G","t":9,"H":78,"U":38,"B":26},
{"p":"G","t":10,"H":80,"U":42,"B":28},{"p":"G","t":11,"H":75,"U":45,"B":27},{"p":"G","t":12,"H":78,"U":68,"B":30},{"p":"G","t":13,"H":74,"U":68,"B":28},{"p":"G","t":14,"H":76,"U":44,"B":25},{"p":"G","t":15,"H":73,"U":46,"B":24},{"p":"G","t":16,"H":80,"U":49,"B":25},{"p":"G","t":17,"H":75,"U":50,"B":26},{"p":"G","t":18,"H":77,"U":52,"B":24},{"p":"G","t":19,"H":71,"U":54,"B":25},
{"p":"G","t":20,"H":74,"U":51,"B":25},{"p":"G","t":21,"H":78,"U":55,"B":26},{"p":"G","t":22,"H":72,"U":53,"B":25},{"p":"G","t":23,"H":67,"U":48,"B":26},{"p":"G","t":24,"H":75,"U":38,"B":27},{"p":"G","t":25,"H":78,"U":64,"B":26},{"p":"G","t":26,"H":72,"U":62,"B":27},{"p":"G","t":27,"H":77,"U":50,"B":26},{"p":"G","t":28,"H":69,"U":58,"B":27},{"p":"G","t":29,"H":73,"U":52,"B":24},
{"p":"G","t":30,"H":68,"U":56,"B":25},{"p":"G","t":31,"H":76,"U":50,"B":26},{"p":"G","t":32,"H":70,"U":58,"B":25},{"p":"G","t":33,"H":78,"U":53,"B":27},{"p":"G","t":34,"H":68,"U":45,"B":29},{"p":"G","t":35,"H":77,"U":48,"B":26},{"p":"G","t":36,"H":80,"U":50,"B":27},{"p":"G","t":37,"H":74,"U":55,"B":28},{"p":"G","t":38,"H":79,"U":52,"B":27},{"p":"G","t":39,"H":77,"U":57,"B":28},
{"p":"G","t":40,"H":80,"U":54,"B":27},{"p":"G","t":41,"H":78,"U":60,"B":29},{"p":"G","t":42,"H":81,"U":56,"B":30},{"p":"G","t":43,"H":79,"U":62,"B":29},{"p":"G","t":44,"H":80,"U":55,"B":31},{"p":"G","t":45,"H":82,"U":61,"B":33},{"p":"G","t":46,"H":81,"U":57,"B":30},{"p":"G","t":47,"H":83,"U":59,"B":29},{"p":"G","t":48,"H":82,"U":53,"B":30},{"p":"G","t":49,"H":84,"U":56,"B":29},
{"p":"G","t":50,"H":82,"U":51,"B":31},{"p":"G","t":51,"H":83,"U":55,"B":29},{"p":"G","t":52,"H":81,"U":52,"B":32},{"p":"G","t":53,"H":84,"U":57,"B":30},{"p":"G","t":54,"H":82,"U":54,"B":33},{"p":"G","t":55,"H":83,"U":58,"B":38},{"p":"G","t":56,"H":81,"U":55,"B":40},{"p":"G","t":57,"H":80,"U":60,"B":40},{"p":"G","t":58,"H":82,"U":62,"B":39},{"p":"G","t":59,"H":80,"U":61,"B":30},
{"p":"G","t":60,"H":79,"U":55,"B":28},{"p":"G","t":61,"H":81,"U":50,"B":27},{"p":"G","t":62,"H":77,"U":53,"B":26},{"p":"G","t":63,"H":80,"U":51,"B":27},{"p":"G","t":64,"H":78,"U":55,"B":26},{"p":"G","t":65,"H":76,"U":52,"B":27},{"p":"G","t":66,"H":80,"U":54,"B":26},{"p":"G","t":67,"H":78,"U":51,"B":27},{"p":"G","t":68,"H":79,"U":56,"B":28},{"p":"G","t":69,"H":77,"U":53,"B":31},
{"p":"G","t":70,"H":80,"U":55,"B":29},{"p":"G","t":71,"H":73,"U":49,"B":27},{"p":"G","t":72,"H":75,"U":50,"B":27},{"p":"G","t":73,"H":79,"U":60,"B":28},{"p":"G","t":74,"H":78,"U":62,"B":27},{"p":"G","t":75,"H":80,"U":64,"B":27},{"p":"G","t":76,"H":79,"U":66,"B":28},{"p":"G","t":77,"H":83,"U":70,"B":44},{"p":"G","t":78,"H":84,"U":71,"B":36},{"p":"G","t":79,"H":82,"U":69,"B":28},
{"p":"G","t":80,"H":80,"U":70,"B":27},{"p":"G","t":81,"H":83,"U":67,"B":27},{"p":"G","t":82,"H":79,"U":68,"B":27},{"p":"G","t":83,"H":81,"U":65,"B":26},{"p":"G","t":84,"H":73,"U":43,"B":27},{"p":"G","t":85,"H":75,"U":44,"B":26},{"p":"G","t":86,"H":72,"U":64,"B":25},{"p":"G","t":87,"H":66,"U":46,"B":26},{"p":"G","t":88,"H":74,"U":47,"B":25},{"p":"G","t":89,"H":76,"U":48,"B":26},
{"p":"G","t":90,"H":72,"U":46,"B":25},{"p":"G","t":91,"H":75,"U":47,"B":25},{"p":"G","t":92,"H":67,"U":32,"B":24},{"p":"G","t":93,"H":70,"U":48,"B":25},{"p":"G","t":94,"H":68,"U":50,"B":26},{"p":"G","t":95,"H":74,"U":51,"B":25},{"p":"G","t":96,"H":76,"U":52,"B":24},{"p":"G","t":97,"H":72,"U":50,"B":25},{"p":"G","t":98,"H":78,"U":26,"B":26},{"p":"G","t":99,"H":74,"U":28,"B":24},
{"p":"G","t":100,"H":64,"U":29,"B":25},{"p":"G","t":101,"H":62,"U":30,"B":24},{"p":"G","t":102,"H":65,"U":29,"B":25},{"p":"G","t":103,"H":74,"U":31,"B":25},{"p":"G","t":104,"H":72,"U":32,"B":24},{"p":"G","t":105,"H":76,"U":34,"B":25},{"p":"G","t":106,"H":75,"U":33,"B":25},{"p":"G","t":107,"H":78,"U":38,"B":26},{"p":"G","t":108,"H":77,"U":40,"B":26},{"p":"G","t":109,"H":80,"U":45,"B":27},
{"p":"G","t":110,"H":82,"U":42,"B":26},{"p":"G","t":111,"H":79,"U":46,"B":27},{"p":"G","t":112,"H":83,"U":40,"B":25},{"p":"G","t":113,"H":71,"U":36,"B":26},{"p":"G","t":114,"H":72,"U":37,"B":25},{"p":"G","t":115,"H":70,"U":35,"B":24},{"p":"G","t":116,"H":68,"U":38,"B":24},{"p":"G","t":117,"H":71,"U":36,"B":25},{"p":"G","t":118,"H":69,"U":37,"B":24},{"p":"G","t":119,"H":66,"U":38,"B":24},{"p":"G","t":120,"H":70,"U":35,"B":25}
]},
"spacing":16,
"vconcat":[
{"hconcat":[
{"width":1,"height":38,"view":{"stroke":null},"data":{"values":[]},"mark":"point"},
{"width":372,"height":38,"view":{"fill":"#f2f2f2","stroke":null},"data":{"values":[{"label":"1 NOTS cavitation"}]},"mark":{"type":"text","font":"Liberation Sans","fontWeight":"bold","fontSize":22,"color":"#111"},"encoding":{"text":{"field":"label"}}},
{"width":755,"height":38,"view":{"fill":"#f2f2f2","stroke":null},"data":{"values":[{"label":"2 NOTS cavitation"}]},"mark":{"type":"text","font":"Liberation Sans","fontWeight":"bold","fontSize":22,"color":"#111"},"encoding":{"text":{"field":"label"}}}
],"spacing":95,"bounds":"flush"},
{"hconcat":[
{"hconcat":[
{"vconcat":[
{"width":42,"height":192,"view":{"fill":"#f2f2f2","stroke":null},"data":{"values":[{"label":"Patient 1"}]},"mark":{"type":"text","angle":270,"font":"Liberation Sans","fontWeight":"bold","fontSize":23,"color":"#111"},"encoding":{"text":{"field":"label"}}},
{"width":42,"height":192,"view":{"fill":"#f2f2f2","stroke":null},"data":{"values":[{"label":"Patient 2"}]},"mark":{"type":"text","angle":270,"font":"Liberation Sans","fontWeight":"bold","fontSize":23,"color":"#111"},"encoding":{"text":{"field":"label"}}},
{"width":42,"height":192,"view":{"fill":"#f2f2f2","stroke":null},"data":{"values":[{"label":"Patient 3"}]},"mark":{"type":"text","angle":270,"font":"Liberation Sans","fontWeight":"bold","fontSize":23,"color":"#111"},"encoding":{"text":{"field":"label"}}}
],"spacing":73,"bounds":"flush"},
{"vconcat":[
{"width":340,"height":201,"title":{"text":"A","dx":-60,"offset":5},"data":{"name":"cav"},
"transform":[{"filter":"datum.p == 'A'"},{"fold":["H","U","B"],"as":["series","v"]}],
"mark":{"type":"line","strokeWidth":2},
"encoding":{
"x":{"field":"t","type":"quantitative","title":"Time (s)","scale":{"domain":[0,120],"nice":false},"axis":{"values":[0,5,10,15,20,25,30,35,40,45,50,55,60,65,70,75,80,85,90,95,100,105,110,115,120],"labelExpr":"datum.value == 5 ? '⬆' : (datum.value % 20 == 0 ? datum.label : '')","gridDash":{"condition":{"test":"datum.value % 20 != 0","value":[1,2]},"value":[]},"gridColor":{"condition":{"test":"datum.value % 20 != 0","value":"#d4d4d4"},"value":"#dedede"},"gridOpacity":{"condition":{"test":"datum.value == 0 || datum.value == 120","value":0},"value":1},"labelFont":{"condition":{"test":"datum.value == 5","value":"DejaVu Sans"},"value":"Liberation Sans"},"labelFontSize":{"condition":{"test":"datum.value == 5","value":20},"value":18},"labelColor":{"condition":{"test":"datum.value == 5","value":"#000"},"value":"#333"}}},
"y":{"field":"v","type":"quantitative","title":"Cavitation dose (dB)","scale":{"domain":[30,100],"nice":false,"zero":false},"axis":{"values":[30,35,40,45,50,55,60,65,70,75,80,85,90,95,100],"labelExpr":"datum.value % 20 == 0 ? datum.label : ''","gridDash":{"condition":{"test":"datum.value % 20 != 0","value":[1,2]},"value":[]},"gridColor":{"condition":{"test":"datum.value % 20 != 0","value":"#d4d4d4"},"value":"#dedede"},"gridOpacity":{"condition":{"test":"datum.value == 30 || datum.value == 100","value":0},"value":1}}},
"color":{"field":"series","type":"nominal","scale":{"domain":["H","U","B"],"range":["#7ac41e","#1b8fe0","#f0625a"]},"legend":{"orient":"none","legendX":543,"legendY":408,"direction":"vertical","title":null,"symbolType":"stroke","symbolSize":2916,"symbolStrokeWidth":3,"labelFont":"Liberation Mono","labelFontSize":21,"labelColor":"#222","labelOffset":53,"labelLimit":400,"padding":10,"symbolOffset":15,"rowPadding":5,"clipHeight":22,"strokeColor":"#999","fillColor":"white","labelExpr":"datum.label == 'H' ? 'Harmonic' : (datum.label == 'U' ? 'Ultraharmonic' : 'Broadband')"}}
}},
{"width":340,"height":201,"title":{"text":"D","dx":-60,"offset":-9},"data":{"name":"cav"},
"transform":[{"filter":"datum.p == 'D'"},{"fold":["H","U","B"],"as":["series","v"]}],
"mark":{"type":"line","strokeWidth":2},
"encoding":{
"x":{"field":"t","type":"quantitative","title":"Time (s)","scale":{"domain":[0,120],"nice":false},"axis":{"values":[0,5,10,15,20,25,30,35,40,45,50,55,60,65,70,75,80,85,90,95,100,105,110,115,120],"labelExpr":"datum.value == 5 ? '⬆' : (datum.value % 20 == 0 ? datum.label : '')","gridDash":{"condition":{"test":"datum.value % 20 != 0","value":[1,2]},"value":[]},"gridColor":{"condition":{"test":"datum.value % 20 != 0","value":"#d4d4d4"},"value":"#dedede"},"gridOpacity":{"condition":{"test":"datum.value == 0 || datum.value == 120","value":0},"value":1},"labelFont":{"condition":{"test":"datum.value == 5","value":"DejaVu Sans"},"value":"Liberation Sans"},"labelFontSize":{"condition":{"test":"datum.value == 5","value":20},"value":18},"labelColor":{"condition":{"test":"datum.value == 5","value":"#000"},"value":"#333"}}},
"y":{"field":"v","type":"quantitative","title":"Cavitation dose (dB)","scale":{"domain":[10,70],"nice":false,"zero":false},"axis":{"values":[10,12.5,15,17.5,20,22.5,25,27.5,30,32.5,35,37.5,40,42.5,45,47.5,50,52.5,55,57.5,60,62.5,65,67.5,70],"labelExpr":"datum.value % 10 == 0 ? datum.label : ''","gridDash":{"condition":{"test":"datum.value % 10 != 0","value":[1,2]},"value":[]},"gridColor":{"condition":{"test":"datum.value % 10 != 0","value":"#d4d4d4"},"value":"#dedede"},"gridOpacity":{"condition":{"test":"datum.value == 10 || datum.value == 70","value":0},"value":1}}},
"color":{"field":"series","type":"nominal","scale":{"domain":["H","U","B"],"range":["#7ac41e","#1b8fe0","#f0625a"]}}
}},
{"width":340,"height":201,"title":{"text":"E","dx":-60,"offset":-8},"data":{"name":"cav"},
"transform":[{"filter":"datum.p == 'E'"},{"fold":["H","U","B"],"as":["series","v"]}],
"mark":{"type":"line","strokeWidth":2},
"encoding":{
"x":{"field":"t","type":"quantitative","title":"Time (s)","scale":{"domain":[0,120],"nice":false},"axis":{"values":[0,5,10,15,20,25,30,35,40,45,50,55,60,65,70,75,80,85,90,95,100,105,110,115,120],"labelExpr":"datum.value == 5 ? '⬆' : (datum.value % 20 == 0 ? datum.label : '')","gridDash":{"condition":{"test":"datum.value % 20 != 0","value":[1,2]},"value":[]},"gridColor":{"condition":{"test":"datum.value % 20 != 0","value":"#d4d4d4"},"value":"#dedede"},"gridOpacity":{"condition":{"test":"datum.value == 0 || datum.value == 120","value":0},"value":1},"labelFont":{"condition":{"test":"datum.value == 5","value":"DejaVu Sans"},"value":"Liberation Sans"},"labelFontSize":{"condition":{"test":"datum.value == 5","value":20},"value":18},"labelColor":{"condition":{"test":"datum.value == 5","value":"#000"},"value":"#333"}}},
"y":{"field":"v","type":"quantitative","title":"Cavitation dose (dB)","scale":{"domain":[0,100],"nice":false},"axis":{"values":[0,5,10,15,20,25,30,35,40,45,50,55,60,65,70,75,80,85,90,95,100],"labelExpr":"datum.value % 20 == 0 ? datum.label : ''","gridDash":{"condition":{"test":"datum.value % 20 != 0","value":[1,2]},"value":[]},"gridColor":{"condition":{"test":"datum.value % 20 != 0","value":"#d4d4d4"},"value":"#dedede"},"gridOpacity":{"condition":{"test":"datum.value == 0 || datum.value == 100","value":0},"value":1}}},
"color":{"field":"series","type":"nominal","scale":{"domain":["H","U","B"],"range":["#7ac41e","#1b8fe0","#f0625a"]}}
}}
],"spacing":64,"bounds":"flush"}
],"spacing":18},
{"hconcat":[
{"vconcat":[
{"width":340,"height":201,"title":{"text":"B","dx":-55,"offset":5},"data":{"name":"cav"},
"transform":[{"filter":"datum.p == 'B'"},{"fold":["H","U","B"],"as":["series","v"]}],
"mark":{"type":"line","strokeWidth":2},
"encoding":{
"x":{"field":"t","type":"quantitative","title":"Time (s)","scale":{"domain":[0,120],"nice":false},"axis":{"values":[0,5,10,15,20,25,30,35,40,45,50,55,60,65,70,75,80,85,90,95,100,105,110,115,120],"labelExpr":"datum.value == 5 ? '⬆' : (datum.value % 20 == 0 ? datum.label : '')","gridDash":{"condition":{"test":"datum.value % 20 != 0","value":[1,2]},"value":[]},"gridColor":{"condition":{"test":"datum.value % 20 != 0","value":"#d4d4d4"},"value":"#dedede"},"gridOpacity":{"condition":{"test":"datum.value == 0 || datum.value == 120","value":0},"value":1},"labelFont":{"condition":{"test":"datum.value == 5","value":"DejaVu Sans"},"value":"Liberation Sans"},"labelFontSize":{"condition":{"test":"datum.value == 5","value":20},"value":18},"labelColor":{"condition":{"test":"datum.value == 5","value":"#000"},"value":"#333"}}},
"y":{"field":"v","type":"quantitative","title":"Cavitation dose (dB)","scale":{"domain":[30,100],"nice":false,"zero":false},"axis":{"values":[30,35,40,45,50,55,60,65,70,75,80,85,90,95,100],"labelExpr":"datum.value % 20 == 0 ? datum.label : ''","gridDash":{"condition":{"test":"datum.value % 20 != 0","value":[1,2]},"value":[]},"gridColor":{"condition":{"test":"datum.value % 20 != 0","value":"#d4d4d4"},"value":"#dedede"},"gridOpacity":{"condition":{"test":"datum.value == 30 || datum.value == 100","value":0},"value":1}}},
"color":{"field":"series","type":"nominal","scale":{"domain":["H","U","B"],"range":["#7ac41e","#1b8fe0","#f0625a"]}}
}},
{"width":1,"height":201,"view":{"stroke":null},"data":{"values":[]},"mark":"point"},
{"width":340,"height":201,"title":{"text":"F","dx":-55,"offset":4},"data":{"name":"cav"},
"transform":[{"filter":"datum.p == 'F'"},{"fold":["H","U","B"],"as":["series","v"]}],
"mark":{"type":"line","strokeWidth":2},
"encoding":{
"x":{"field":"t","type":"quantitative","title":"Time (s)","scale":{"domain":[0,120],"nice":false},"axis":{"values":[0,5,10,15,20,25,30,35,40,45,50,55,60,65,70,75,80,85,90,95,100,105,110,115,120],"labelExpr":"datum.value == 5 ? '⬆' : (datum.value % 20 == 0 ? datum.label : '')","gridDash":{"condition":{"test":"datum.value % 20 != 0","value":[1,2]},"value":[]},"gridColor":{"condition":{"test":"datum.value % 20 != 0","value":"#d4d4d4"},"value":"#dedede"},"gridOpacity":{"condition":{"test":"datum.value == 0 || datum.value == 120","value":0},"value":1},"labelFont":{"condition":{"test":"datum.value == 5","value":"DejaVu Sans"},"value":"Liberation Sans"},"labelFontSize":{"condition":{"test":"datum.value == 5","value":20},"value":18},"labelColor":{"condition":{"test":"datum.value == 5","value":"#000"},"value":"#333"}}},
"y":{"field":"v","type":"quantitative","title":"Cavitation dose (dB)","scale":{"domain":[10,90],"nice":false,"zero":false},"axis":{"values":[10,15,20,25,30,35,40,45,50,55,60,65,70,75,80,85,90],"labelExpr":"datum.value % 20 == 0 ? datum.label : ''","gridDash":{"condition":{"test":"datum.value % 20 != 0","value":[1,2]},"value":[]},"gridColor":{"condition":{"test":"datum.value % 20 != 0","value":"#d4d4d4"},"value":"#dedede"},"gridOpacity":{"condition":{"test":"datum.value == 10 || datum.value == 90","value":0},"value":1}}},
"color":{"field":"series","type":"nominal","scale":{"domain":["H","U","B"],"range":["#7ac41e","#1b8fe0","#f0625a"]}}
}}
],"spacing":64,"bounds":"flush"},
{"vconcat":[
{"width":340,"height":201,"title":{"text":"C","dx":-58,"offset":5},"data":{"name":"cav"},
"transform":[{"filter":"datum.p == 'C'"},{"fold":["H","U","B"],"as":["series","v"]}],
"mark":{"type":"line","strokeWidth":2},
"encoding":{
"x":{"field":"t","type":"quantitative","title":"Time (s)","scale":{"domain":[0,120],"nice":false},"axis":{"values":[0,5,10,15,20,25,30,35,40,45,50,55,60,65,70,75,80,85,90,95,100,105,110,115,120],"labelExpr":"datum.value % 20 == 0 ? datum.label : ''","gridDash":{"condition":{"test":"datum.value % 20 != 0","value":[1,2]},"value":[]},"gridColor":{"condition":{"test":"datum.value % 20 != 0","value":"#d4d4d4"},"value":"#dedede"},"gridOpacity":{"condition":{"test":"datum.value == 0 || datum.value == 120","value":0},"value":1}}},
"y":{"field":"v","type":"quantitative","title":"Cavitation dose (dB)","scale":{"domain":[0,100],"nice":false},"axis":{"values":[0,5,10,15,20,25,30,35,40,45,50,55,60,65,70,75,80,85,90,95,100],"labelExpr":"datum.value % 20 == 0 ? datum.label : ''","gridDash":{"condition":{"test":"datum.value % 20 != 0","value":[1,2]},"value":[]},"gridColor":{"condition":{"test":"datum.value % 20 != 0","value":"#d4d4d4"},"value":"#dedede"},"gridOpacity":{"condition":{"test":"datum.value == 0 || datum.value == 100","value":0},"value":1}}},
"color":{"field":"series","type":"nominal","scale":{"domain":["H","U","B"],"range":["#7ac41e","#1b8fe0","#f0625a"]}}
}},
{"width":1,"height":201,"view":{"stroke":null},"data":{"values":[]},"mark":"point"},
{"width":340,"height":201,"title":{"text":"G","dx":-59,"offset":-6},"data":{"name":"cav"},
"transform":[{"filter":"datum.p == 'G'"},{"fold":["H","U","B"],"as":["series","v"]}],
"mark":{"type":"line","strokeWidth":2},
"encoding":{
"x":{"field":"t","type":"quantitative","title":"Time (s)","scale":{"domain":[0,120],"nice":false},"axis":{"values":[0,5,10,15,20,25,30,35,40,45,50,55,60,65,70,75,80,85,90,95,100,105,110,115,120],"labelExpr":"datum.value % 20 == 0 ? datum.label : ''","gridDash":{"condition":{"test":"datum.value % 20 != 0","value":[1,2]},"value":[]},"gridColor":{"condition":{"test":"datum.value % 20 != 0","value":"#d4d4d4"},"value":"#dedede"},"gridOpacity":{"condition":{"test":"datum.value == 0 || datum.value == 120","value":0},"value":1}}},
"y":{"field":"v","type":"quantitative","title":"Cavitation dose (dB)","scale":{"domain":[10,90],"nice":false,"zero":false},"axis":{"values":[10,15,20,25,30,35,40,45,50,55,60,65,70,75,80,85,90],"labelExpr":"datum.value % 20 == 0 ? datum.label : ''","gridDash":{"condition":{"test":"datum.value % 20 != 0","value":[1,2]},"value":[]},"gridColor":{"condition":{"test":"datum.value % 20 != 0","value":"#d4d4d4"},"value":"#dedede"},"gridOpacity":{"condition":{"test":"datum.value == 10 || datum.value == 90","value":0},"value":1}}},
"color":{"field":"series","type":"nominal","scale":{"domain":["H","U","B"],"range":["#7ac41e","#1b8fe0","#f0625a"]}}
}}
],"spacing":64,"bounds":"flush"}
],"spacing":2}
],"spacing":19}
]
}
